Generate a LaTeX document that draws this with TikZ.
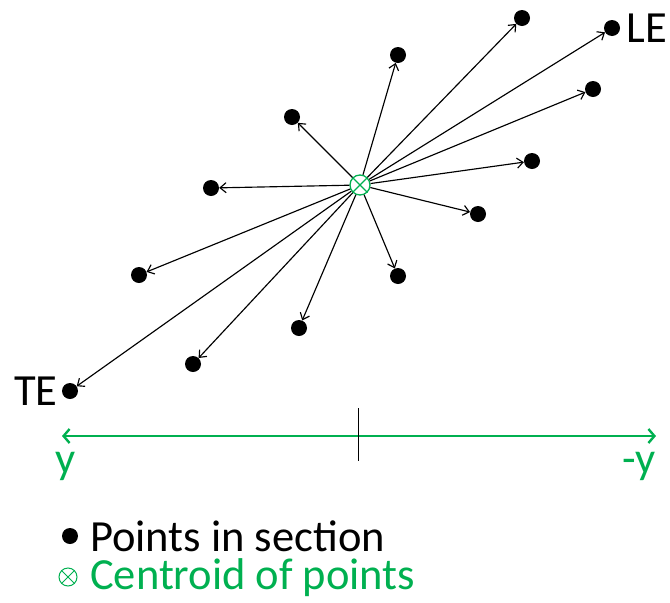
\documentclass[tikz,border=0pt]{standalone}
\usepackage{fontspec}
\setmainfont{Carlito}
\usetikzlibrary{arrows.meta}
\definecolor{ygreen}{RGB}{0,176,80}
\begin{document}
\begin{tikzpicture}[x=1pt, y=-1pt, inner sep=1pt,
    pt/.style={circle, fill=black, minimum size=16pt, inner sep=0pt},
    cen/.style={circle, draw=ygreen, line width=1.3pt, minimum size=20pt, inner sep=0pt},
    vec/.style={line width=1.15pt, -{Straight Barb[length=6pt, width=10pt]}},
    lbl/.style={font=\fontsize{44.5}{52}\selectfont},
    leg/.style={lbl, anchor=base west, inner sep=0pt, text height=29pt, text depth=8pt},
    axis/.style={draw=ygreen, line width=2.4pt, {Straight Barb[length=6pt, width=14pt]}-{Straight Barb[length=6pt, width=14pt]}}]
      \useasboundingbox (0,0) rectangle (670,603);
      % centroid
      \node[cen] (c) at (360,185) {};
      \draw[ygreen, line width=1.3pt] (c.45) -- (c.225);
      \draw[ygreen, line width=1.3pt] (c.135) -- (c.315);
      % points in section
      \node[pt] (p1) at (522,18) {};
      \node[pt] (le) at (612,28) {};
      \node[pt] (p2) at (398,55) {};
      \node[pt] (p3) at (593,89) {};
      \node[pt] (p4) at (292,117) {};
      \node[pt] (p5) at (532,161) {};
      \node[pt] (p6) at (211,188) {};
      \node[pt] (p7) at (478,214) {};
      \node[pt] (p8) at (139,275) {};
      \node[pt] (p9) at (398,276) {};
      \node[pt] (p10) at (299,328) {};
      \node[pt] (p11) at (193,364) {};
      \node[pt] (te) at (70,391) {};
      \node[lbl, right=5pt] (leLbl) at (le.east) {LE};
      \node[lbl, left=3pt] (teLbl) at (te.west) {TE};
      \draw[vec] (c) -- (p1);
      \draw[vec] (c) -- (le);
      \draw[vec] (c) -- (p2);
      \draw[vec] (c) -- (p3);
      \draw[vec] (c) -- (p4);
      \draw[vec] (c) -- (p5);
      \draw[vec] (c) -- (p6);
      \draw[vec] (c) -- (p7);
      \draw[vec] (c) -- (p8);
      \draw[vec] (c) -- (p9);
      \draw[vec] (c) -- (p10);
      \draw[vec] (c) -- (p11);
      \draw[vec] (c) -- (te);
      % y axis of the section
      \coordinate (ya) at (62,436);
      \coordinate (yb) at (656,436);
      \coordinate (t1) at (358,408);
      \coordinate (t2) at (358,461);
      \draw[axis] (ya) -- (yb);
      \draw[line width=1pt] (t1) -- (t2);
      \node[lbl, text=ygreen] (yl) at (66,466) {y};
      \node[lbl, text=ygreen] (yr) at (639,466) {-y};
      % legend
      \node[pt, minimum size=16pt] (legPt) at (70,536) {};
      \node[leg] (legPtTxt) at (90,551) {Points in section};
      \node[cen, minimum size=18pt, line width=1pt] (legC) at (68,577) {};
      \draw[ygreen, line width=1pt] (legC.45) -- (legC.225);
      \draw[ygreen, line width=1pt] (legC.135) -- (legC.315);
      \node[leg, text=ygreen] (legCTxt) at (90,589) {Centroid of points};
\end{tikzpicture}
\end{document}
